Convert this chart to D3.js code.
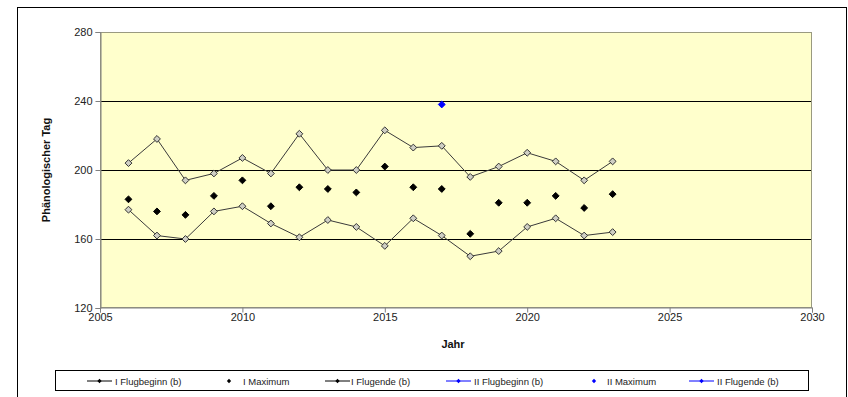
<!DOCTYPE html>
<html>
<head>
<meta charset="utf-8">
<script src="https://cdn.jsdelivr.net/npm/d3@7"></script>
<style>
  html, body { margin: 0; padding: 0; background: #fff; }
  svg { display: block; font-family: "Liberation Sans", Arial, sans-serif; }
</style>
</head>
<body>
<svg id="chart" width="848" height="397"></svg>
<script>
// Flight-period phenology per year (day of year)
const years = [2006, 2007, 2008, 2009, 2010, 2011, 2012, 2013, 2014, 2015, 2016, 2017, 2018, 2019, 2020, 2021, 2022, 2023];
const flugbeginnI = [177, 162, 160, 176, 179, 169, 161, 171, 167, 156, 172, 162, 150, 153, 167, 172, 162, 164];
const maximumI    = [183, 176, 174, 185, 194, 179, 190, 189, 187, 202, 190, 189, 163, 181, 181, 185, 178, 186];
const flugendeI   = [204, 218, 194, 198, 207, 198, 221, 200, 200, 223, 213, 214, 196, 202, 210, 205, 194, 205];
const maximumIIYears = [2017];
const maximumII      = [238];

const xTicks = [2005, 2010, 2015, 2020, 2025, 2030];
const yTicks = [120, 160, 200, 240, 280];
const legendLabels = ["I Flugbeginn (b)", "I Maximum", "I Flugende (b)", "II Flugbeginn (b)", "II Maximum", "II Flugende (b)"];

const svg = d3.select("#chart");

// outer chart frame
svg.append("rect").attr("x", 17.5).attr("y", 7.5).attr("width", 829).attr("height", 400)
  .attr("fill", "#fff").attr("stroke", "#000").attr("stroke-width", 1);

const plot = { left: 100, right: 812, top: 32, bottom: 308 };
const x = d3.scaleLinear().domain([2005, 2030]).range([plot.left, plot.right]);
const y = d3.scaleLinear().domain([120, 280]).range([plot.bottom, plot.top]);

// plot background
svg.append("rect").attr("x", plot.left).attr("y", plot.top)
  .attr("width", plot.right - plot.left).attr("height", plot.bottom - plot.top)
  .attr("fill", "#FFFFCC");

// horizontal gridlines
svg.append("g").selectAll("line").data(yTicks.filter(v => v > 120 && v < 280)).join("line")
  .attr("x1", plot.left).attr("x2", plot.right)
  .attr("y1", d => Math.round(y(d)) + 0.5).attr("y2", d => Math.round(y(d)) + 0.5)
  .attr("stroke", "#000").attr("stroke-width", 1);

// plot border
svg.append("rect").attr("x", plot.left + 0.5).attr("y", plot.top + 0.5)
  .attr("width", plot.right - plot.left - 1).attr("height", plot.bottom - plot.top - 1)
  .attr("fill", "none").attr("stroke", "#9a9a80").attr("stroke-width", 1);

// axes
const yAxis = d3.axisLeft(y).tickValues(yTicks).tickSize(5).tickPadding(3).tickFormat(d3.format("d"));
const gy = svg.append("g").attr("transform", `translate(${plot.left + 0.5},0)`).call(yAxis);
gy.select(".domain").attr("stroke", "#808080");
gy.selectAll(".tick line").attr("stroke", "#808080");
gy.selectAll("text").attr("font-size", 11).attr("fill", "#222").attr("font-family", "Liberation Sans, Arial, sans-serif");

const xAxis = d3.axisBottom(x).tickValues(xTicks).tickSize(5).tickPadding(1).tickFormat(d3.format("d"));
const gx = svg.append("g").attr("transform", `translate(0,${plot.bottom - 0.5})`).call(xAxis);
gx.select(".domain").attr("stroke", "#808080");
gx.selectAll(".tick line").attr("stroke", "#808080");
gx.selectAll("text").attr("font-size", 11).attr("fill", "#222").attr("font-family", "Liberation Sans, Arial, sans-serif");

// axis titles
svg.append("text").attr("transform", `translate(50,${(plot.top + plot.bottom) / 2}) rotate(-90)`)
  .attr("text-anchor", "middle").attr("font-size", 11).attr("font-weight", "bold").attr("fill", "#111")
  .text("Phänologischer Tag");
svg.append("text").attr("x", (plot.left + plot.right) / 2 - 3).attr("y", 348)
  .attr("text-anchor", "middle").attr("font-size", 11).attr("font-weight", "bold").attr("fill", "#111")
  .text("Jahr");

const diamond = d3.symbol().type(d3.symbolDiamond2);
const line = d3.line().x(d => x(d[0])).y(d => y(d[1]));

function drawSeries(values, withLine) {
  const pts = years.map((yr, i) => [yr, values[i]]);
  if (withLine) {
    svg.append("path").datum(pts).attr("d", line)
      .attr("fill", "none").attr("stroke", "#3a3a3a").attr("stroke-width", 1);
  }
  svg.append("g").selectAll("path").data(pts).join("path")
    .attr("transform", d => `translate(${x(d[0])},${y(d[1])})`)
    .attr("d", diamond.size(30))
    .attr("fill", withLine ? "#cfcfc4" : "#000")
    .attr("stroke", withLine ? "#333" : "#000").attr("stroke-width", 1);
}

drawSeries(flugendeI, true);
drawSeries(flugbeginnI, true);
drawSeries(maximumI, false);

// second generation maximum
svg.append("g").selectAll("path").data(maximumIIYears.map((yr, i) => [yr, maximumII[i]])).join("path")
  .attr("transform", d => `translate(${x(d[0])},${y(d[1])})`)
  .attr("d", diamond.size(30)).attr("fill", "#0000FF").attr("stroke", "#0000FF");

// legend
svg.append("rect").attr("x", 55.5).attr("y", 370.5).attr("width", 753).attr("height", 20)
  .attr("fill", "#fff").attr("stroke", "#000").attr("stroke-width", 1);

const legendItems = [
  { label: legendLabels[0], color: "#000", line: true, x0: 87, tx: 115 },
  { label: legendLabels[1], color: "#000", line: false, x0: 229, tx: 243 },
  { label: legendLabels[2], color: "#000", line: true, x0: 325, tx: 351 },
  { label: legendLabels[3], color: "#0000FF", line: true, x0: 446, tx: 474 },
  { label: legendLabels[4], color: "#0000FF", line: false, x0: 594, tx: 607 },
  { label: legendLabels[5], color: "#0000FF", line: true, x0: 689, tx: 717 }
];
const ly = 381;
const lg = svg.append("g").selectAll("g").data(legendItems).join("g");
lg.filter(d => d.line).append("line")
  .attr("x1", d => d.x0).attr("x2", d => d.x0 + 25).attr("y1", ly).attr("y2", ly)
  .attr("stroke", d => d.color).attr("stroke-width", 1);
lg.append("path")
  .attr("transform", d => `translate(${d.line ? d.x0 + 12.5 : d.x0},${ly})`)
  .attr("d", diamond.size(12)).attr("fill", d => d.color);
lg.append("text").attr("x", d => d.tx).attr("y", ly + 3.5)
  .attr("font-size", 9.5).attr("fill", "#222").text(d => d.label);
</script>
</body>
</html>
